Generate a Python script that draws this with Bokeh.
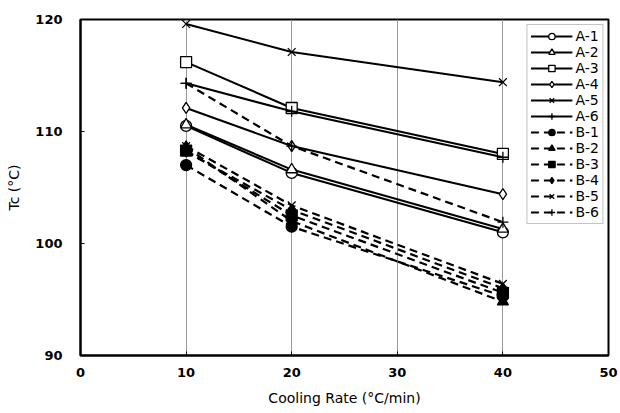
from bokeh.plotting import figure
from bokeh.embed import file_html
from bokeh.resources import INLINE
from bokeh.models import FixedTicker, Legend, LegendItem

rate = [10, 20, 40]
A1 = [110.5, 106.3, 101.0]
A2 = [110.6, 106.6, 101.3]
A3 = [116.2, 112.1, 108.0]
A4 = [112.1, 108.7, 104.4]
A5 = [119.6, 117.1, 114.4]
A6 = [114.3, 111.8, 107.7]
B1 = [107.0, 101.5, 95.3]
B2 = [108.6, 102.0, 94.8]
B3 = [108.3, 102.5, 95.6]
B4 = [108.2, 103.0, 96.0]
B5 = [108.7, 103.4, 96.4]
B6 = [114.3, 108.7, 101.9]

series = [
    ("A-1", A1, "circle", "white", "solid"),
    ("A-2", A2, "triangle", "white", "solid"),
    ("A-3", A3, "square", "white", "solid"),
    ("A-4", A4, "diamond", "white", "solid"),
    ("A-5", A5, "x", "white", "solid"),
    ("A-6", A6, "cross", "white", "solid"),
    ("B-1", B1, "circle", "black", "dashed"),
    ("B-2", B2, "triangle", "black", "dashed"),
    ("B-3", B3, "square", "black", "dashed"),
    ("B-4", B4, "diamond", "black", "dashed"),
    ("B-5", B5, "x", "black", "dashed"),
    ("B-6", B6, "cross", "black", "dashed"),
]

p = figure(width=620, height=413, x_range=(0, 50), y_range=(90, 120),
           output_backend="svg", toolbar_location=None,
           min_border_left=80, min_border_right=12, min_border_top=19, min_border_bottom=58)

font = "DejaVu Sans"
p.outline_line_color = "black"
p.outline_line_width = 2
p.background_fill_color = "white"
p.border_fill_color = "white"

p.ygrid.grid_line_color = None
p.xgrid.grid_line_color = "#999999"
p.xgrid.grid_line_width = 1
p.xgrid.ticker = FixedTicker(ticks=[10, 20, 30, 40])

for ax in (p.xaxis[0], p.yaxis[0]):
    ax.axis_line_width = 2
    ax.axis_line_color = "black"
    ax.major_tick_line_color = "black"
    ax.major_tick_in = 4
    ax.major_tick_out = 0
    ax.minor_tick_line_color = None
    ax.major_label_text_font = font
    ax.major_label_text_font_size = "13px"
    ax.major_label_text_font_style = "bold"
    ax.major_label_text_color = "black"
    ax.axis_label_text_font = font
    ax.axis_label_text_font_size = "14px"
    ax.axis_label_text_font_style = "normal"
    ax.axis_label_text_color = "black"

p.xaxis.ticker = FixedTicker(ticks=[0, 10, 20, 30, 40, 50])
p.yaxis.ticker = FixedTicker(ticks=[90, 100, 110, 120])
p.xaxis.axis_label = "Cooling Rate (°C/min)"
p.yaxis.axis_label = "Tc (°C)"
p.xaxis.major_label_standoff = 12
p.yaxis.major_label_standoff = 18
p.xaxis.axis_label_standoff = 10
p.yaxis.axis_label_standoff = 10

items = []
for name, vals, marker, fill, dash in series:
    lw = 2 if dash == "solid" else 2.2
    ld = "solid" if dash == "solid" else "8 5"
    r1 = p.line(rate, vals, line_color="black", line_width=lw, line_dash=ld)
    r2 = p.scatter(rate, vals, marker=marker, size=11, fill_color=fill,
                   line_color="black", line_width=1.3)
    items.append(LegendItem(label=name, renderers=[r1, r2]))

legend = Legend(items=items, location="top_right")
legend.label_text_font = font
legend.label_text_font_size = "14px"
legend.label_text_color = "black"
legend.glyph_width = 42
legend.glyph_height = 16
legend.label_height = 16
legend.spacing = 0
legend.padding = 3
legend.margin = 5
legend.label_standoff = 3
legend.border_line_color = "#888888"
legend.border_line_width = 1
legend.background_fill_alpha = 1
p.add_layout(legend)

open("out.html", "w").write(file_html(p, INLINE))
